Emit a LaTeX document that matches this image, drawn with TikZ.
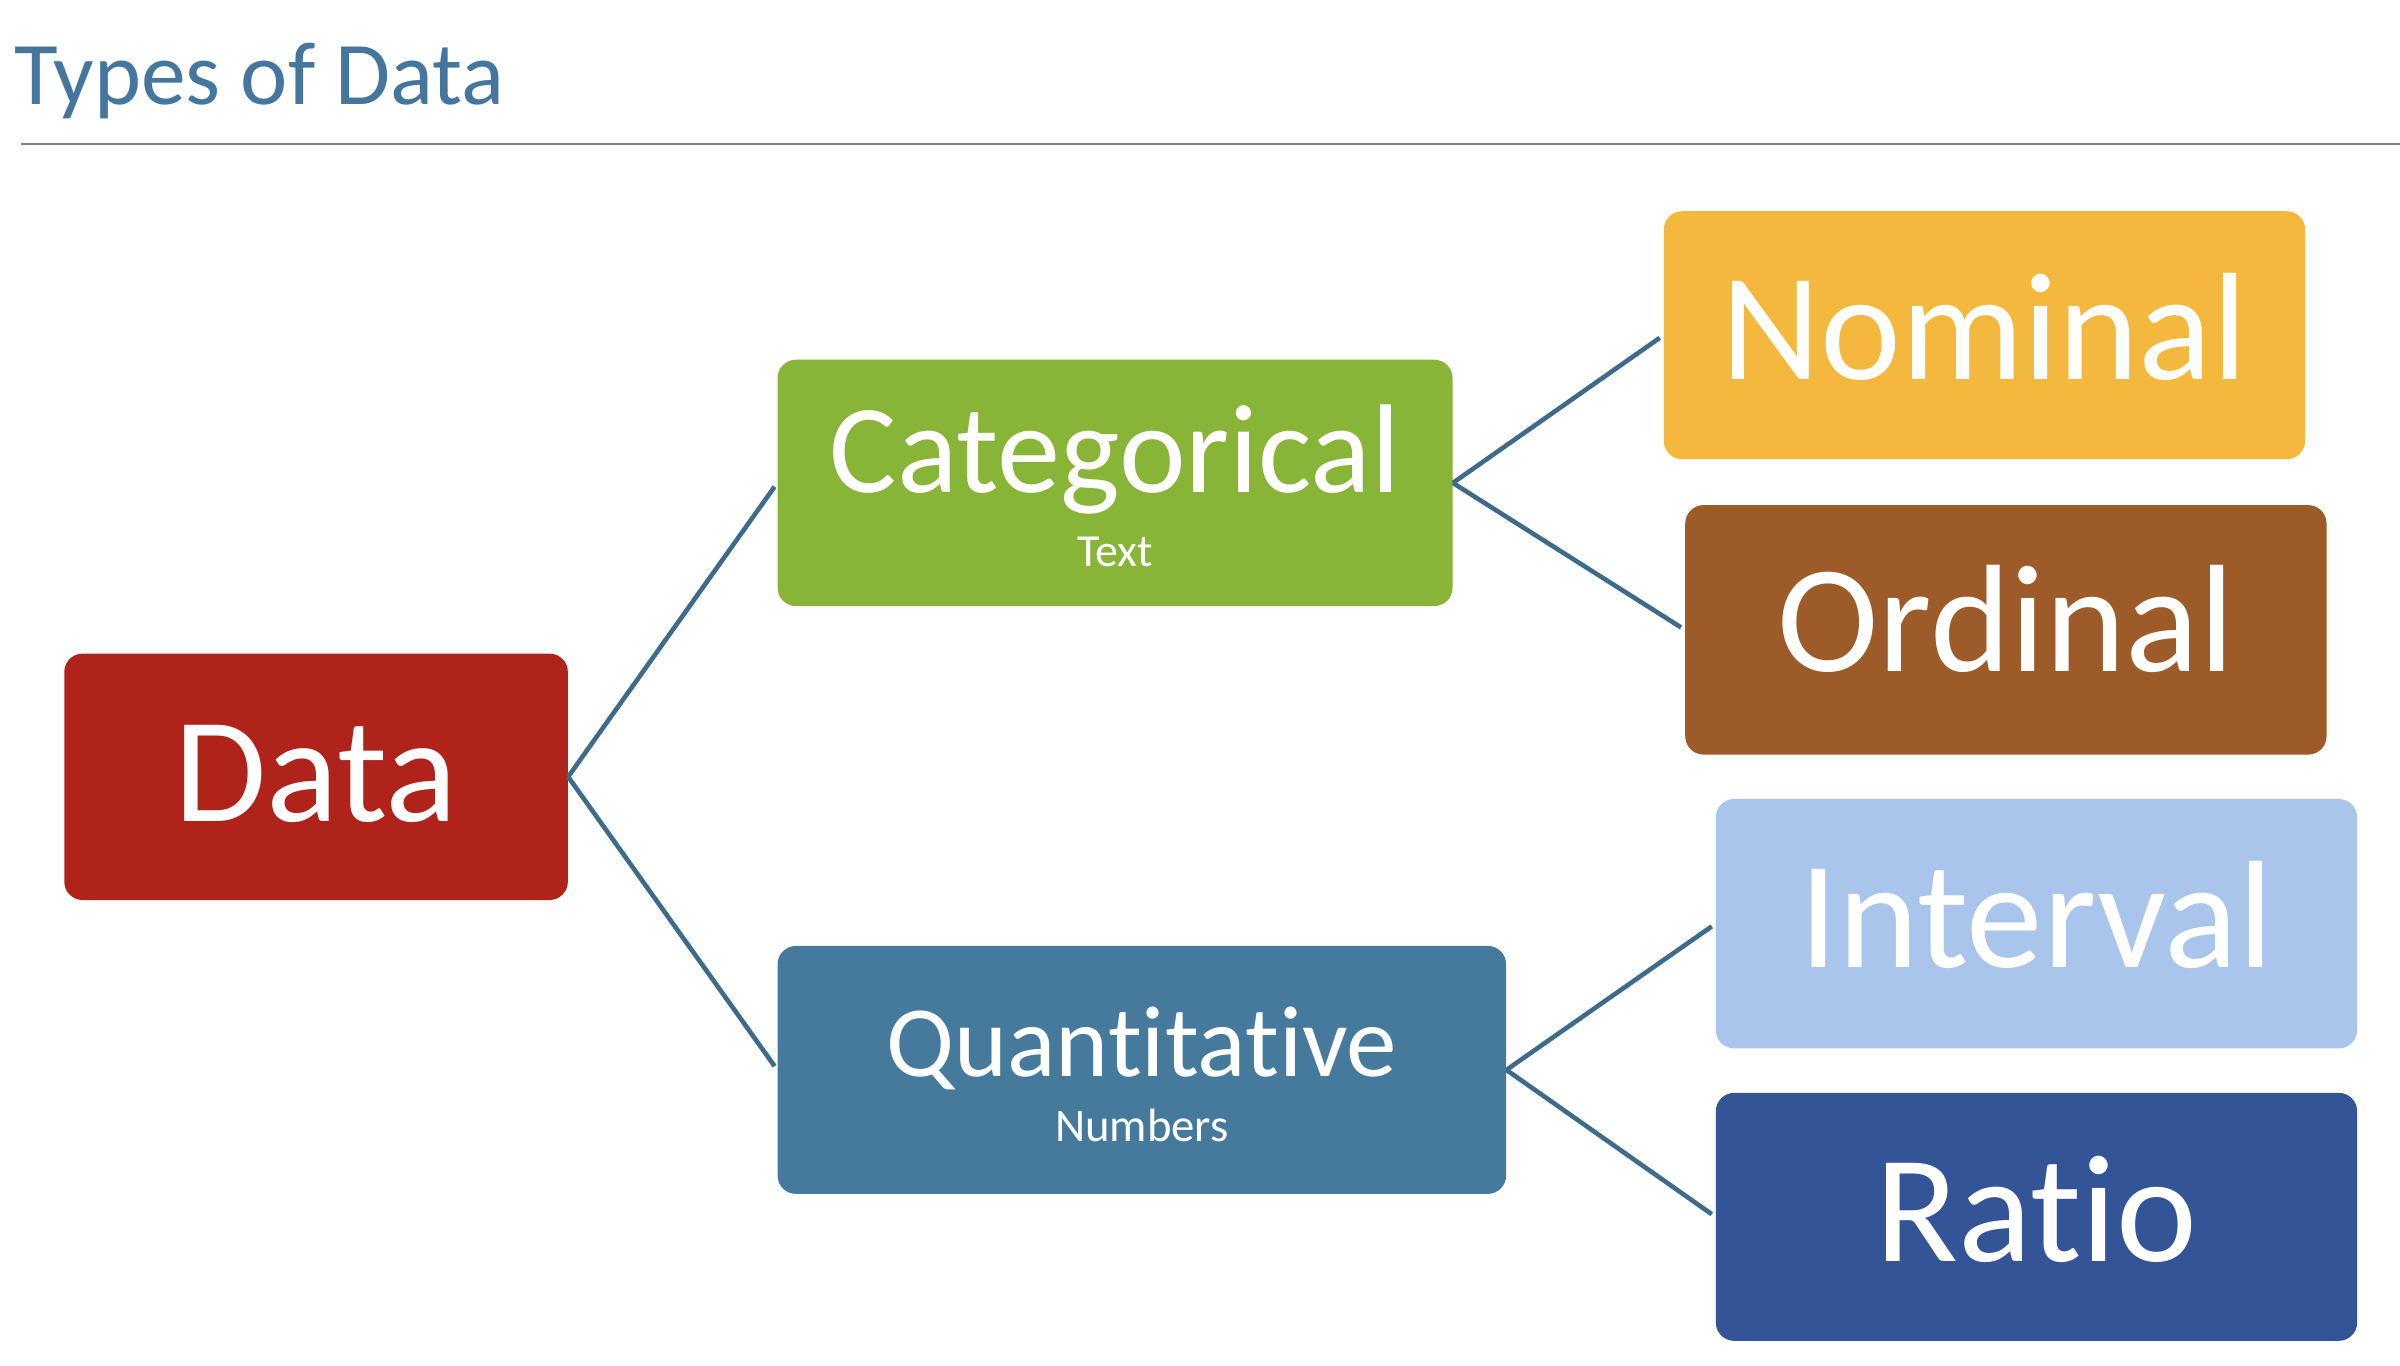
\documentclass[tikz,border=0pt]{standalone}
\usepackage{fontspec}
\setmainfont{Carlito}[RawFeature=-liga]
\definecolor{titlec}{HTML}{44769E}
\definecolor{rulec}{HTML}{7F7F7F}
\definecolor{linkc}{HTML}{3E6B8A}
\definecolor{datac}{HTML}{B0231A}
\definecolor{catc}{HTML}{88B437}
\definecolor{quanc}{HTML}{467A9C}
\definecolor{nomc}{HTML}{F3B83D}
\definecolor{ordc}{HTML}{9C5B28}
\definecolor{intc}{HTML}{A9C5EC}
\definecolor{ratc}{HTML}{335597}
\tikzset{
  box/.style={rectangle, rounded corners=12pt, draw=none, inner sep=0pt},
  bigtxt/.style={anchor=base, text=white, inner sep=0pt, font=\fontsize{100}{112}\selectfont},
  link/.style={draw=linkc, line width=3pt, shorten >=3pt}
}
\begin{document}
\begin{tikzpicture}[x=1pt,y=-1pt]
\useasboundingbox (0,0) rectangle (1568,892);
% title
\node[anchor=base west, inner sep=0pt, text=titlec, font=\fontsize{58.5}{66}\selectfont] (title) at (9,68) {Types of Data};
\coordinate (rl) at (14,94);
\coordinate (rr) at (1568,94);
\draw[rulec, line width=1.5pt] (rl) -- (rr);
% boxes
\node[box, fill=datac, minimum width=329pt, minimum height=161pt] (data) at (206.5,507.5) {};
\node[box, fill=catc, minimum width=441pt, minimum height=161pt] (cat) at (728.5,315.5) {};
\node[box, fill=quanc, minimum width=476pt, minimum height=162pt] (quan) at (746,699) {};
\node[box, fill=nomc, minimum width=419pt, minimum height=162pt] (nom) at (1296.5,219) {};
\node[box, fill=ordc, minimum width=419pt, minimum height=163pt] (ord) at (1310.5,411.5) {};
\node[box, fill=intc, minimum width=419pt, minimum height=163pt] (int) at (1330.5,603.5) {};
\node[box, fill=ratc, minimum width=419pt, minimum height=162pt] (rat) at (1330.5,795) {};
% texts
\node[bigtxt, font=\fontsize{98}{110}\selectfont] (datat) at (206.5,537) {Data};
\node[bigtxt, font=\fontsize{82.5}{96}\selectfont] (catt) at (728.5,322) {Categorical};
\node[anchor=base, text=white, inner sep=0pt, font=\fontsize{30}{36}\selectfont] (cats) at (728.5,370) {Text};
\node[bigtxt, font=\fontsize{66}{78}\selectfont] (quant) at (746,703) {Quantitative};
\node[anchor=base, text=white, inner sep=0pt, font=\fontsize{30.5}{36}\selectfont] (quans) at (746,746) {Numbers};
\node[bigtxt] (nomt) at (1296.5,248) {Nominal};
\node[bigtxt] (ordt) at (1310.5,439) {Ordinal};
\node[bigtxt] (intt) at (1330.5,632) {Interval};
\node[bigtxt] (ratt) at (1330.5,824) {Ratio};
% connectors
\draw[link] (data.east) -- (cat.west);
\draw[link] (data.east) -- (quan.west);
\draw[link] (cat.east) -- (nom.west);
\draw[link] (cat.east) -- (ord.west);
\draw[link] (quan.east) -- (int.west);
\draw[link] (quan.east) -- (rat.west);
\end{tikzpicture}
\end{document}
